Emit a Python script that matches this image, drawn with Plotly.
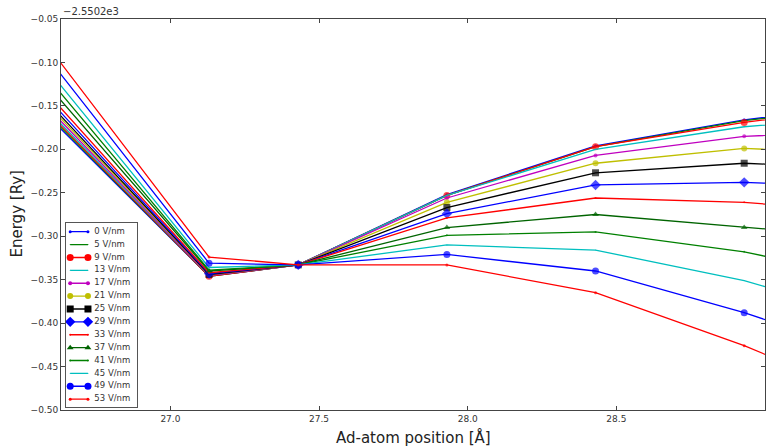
import plotly.graph_objs as go

# ad-atom positions [A]
positions = [26.63, 27.13, 27.43, 27.93, 28.43, 28.93, 29.43]

field_labels = ['0 V/nm', '5 V/nm', '9 V/nm', '13 V/nm', '17 V/nm', '21 V/nm', '25 V/nm',
                '29 V/nm', '33 V/nm', '37 V/nm', '41 V/nm', '45 V/nm', '49 V/nm', '53 V/nm']

# energies relative to -2.5502e3 Ry
e_0 = [-0.176, -0.346, -0.333, -0.252, -0.196, -0.166, -0.146]
e_5 = [-0.174, -0.346, -0.333, -0.253, -0.197, -0.167, -0.147]
e_9 = [-0.172, -0.346, -0.333, -0.253, -0.197, -0.169, -0.148]
e_13 = [-0.170, -0.345, -0.333, -0.253, -0.200, -0.174, -0.160]
e_17 = [-0.167, -0.345, -0.333, -0.256, -0.207, -0.185, -0.178]
e_21 = [-0.164, -0.344, -0.333, -0.261, -0.216, -0.199, -0.206]
e_25 = [-0.161, -0.344, -0.333, -0.267, -0.227, -0.216, -0.223]
e_29 = [-0.157, -0.343, -0.333, -0.274, -0.241, -0.238, -0.245]
e_33 = [-0.152, -0.342, -0.333, -0.279, -0.256, -0.261, -0.275]
e_37 = [-0.143, -0.340, -0.333, -0.290, -0.275, -0.290, -0.304]
e_41 = [-0.135, -0.339, -0.333, -0.299, -0.295, -0.318, -0.354]
e_45 = [-0.126, -0.336, -0.333, -0.310, -0.316, -0.351, -0.401]
e_49 = [-0.113, -0.331, -0.333, -0.321, -0.340, -0.388, -0.445]
e_53 = [-0.100, -0.324, -0.333, -0.333, -0.365, -0.426, -0.497]

energies = [e_0, e_5, e_9, e_13, e_17, e_21, e_25, e_29, e_33, e_37, e_41, e_45, e_49, e_53]

# (color, marker symbol, marker size) per series, matplotlib classic look
styles = [('#0000ff', 'circle', 3),
          ('#008000', 'circle', 1),
          ('#ff0000', 'circle', 7),
          ('#00bfbf', 'circle', 1),
          ('#bf00bf', 'circle', 4),
          ('#bfbf00', 'circle', 6),
          ('#000000', 'square', 7),
          ('#0000ff', 'diamond', 8),
          ('#ff0000', 'circle', 2),
          ('#006400', 'triangle-up', 6),
          ('#008000', 'circle', 2),
          ('#00bfbf', 'circle', 1),
          ('#0000ff', 'circle', 7),
          ('#ff0000', 'circle', 3)]

font_family = "DejaVu Sans, sans-serif"

fig = go.Figure()
for label, vals, (color, symbol, size) in zip(field_labels, energies, styles):
    # first point sits on the left axis edge, where matplotlib clipped its marker away
    sizes = [0] + [size] * (len(vals) - 1)
    fig.add_trace(go.Scatter(
        x=positions,
        y=vals,
        name=label,
        mode='lines+markers',
        line=dict(color=color, width=1.3),
        marker=dict(color=color, symbol=symbol, size=sizes, line=dict(width=0)),
        showlegend=False,
    ))

# matplotlib-style legend (two markers per sample) drawn in a small inset axis
n = len(field_labels)
for i, (label, (color, symbol, size)) in enumerate(zip(field_labels, styles)):
    row = n - 0.4 - i
    fig.add_trace(go.Scatter(
        x=[0.6, 3.1], y=[row, row],
        mode='lines+markers',
        line=dict(color=color, width=1.3),
        marker=dict(color=color, symbol=symbol, size=size, line=dict(width=0)),
        xaxis='x2', yaxis='y2', showlegend=False, hoverinfo='skip',
    ))
fig.add_trace(go.Scatter(
    x=[4.0] * n, y=[n - 0.4 - i for i in range(n)],
    text=field_labels, mode='text', textposition='middle right',
    textfont=dict(family=font_family, size=8.5, color='#333'),
    xaxis='x2', yaxis='y2', showlegend=False, hoverinfo='skip',
))

axis_common = dict(
    showline=True,
    linecolor='#444',
    linewidth=1,
    mirror='allticks',
    ticks='inside',
    ticklen=4,
    tickcolor='#444',
    showgrid=False,
    zeroline=False,
    automargin=False,
    tickfont=dict(family=font_family, size=9, color='#333'),
)
inset_axis = dict(showline=True, linecolor='#555', linewidth=1, mirror=True,
                  showgrid=False, zeroline=False, showticklabels=False, ticks='',
                  fixedrange=True)

fig.update_layout(
    width=772,
    height=446,
    margin=dict(l=61, r=7, t=19, b=36),
    paper_bgcolor='white',
    plot_bgcolor='white',
    font=dict(family=font_family, color='#222'),
    showlegend=False,
    xaxis=dict(
        range=[26.632, 29.0],
        tickvals=[27.0, 27.5, 28.0, 28.5, 29.0],
        tickformat='.1f',
        **axis_common
    ),
    yaxis=dict(
        range=[-0.50, -0.05],
        dtick=0.05,
        tick0=-0.5,
        tickformat='.2f',
        **axis_common
    ),
    xaxis2=dict(domain=[0.007, 0.108], range=[0, 10], anchor='y2', **inset_axis),
    yaxis2=dict(domain=[0.008, 0.479], range=[0, n + 0.3], anchor='x2', **inset_axis),
    annotations=[
        dict(text='−2.5502e3', xref='paper', yref='paper', x=0.0, y=1.0,
             xanchor='left', yanchor='bottom', showarrow=False,
             font=dict(family=font_family, size=10, color='#333')),
        dict(text='Ad-atom position [Å]', xref='paper', yref='paper', x=0.5, y=0.0,
             xanchor='center', yanchor='top', yshift=-16, showarrow=False,
             font=dict(family=font_family, size=15, color='#222')),
        dict(text='Energy [Ry]', xref='paper', yref='paper', x=0.0, y=0.5,
             xanchor='right', yanchor='middle', xshift=-34, textangle=-90,
             showarrow=False, font=dict(family=font_family, size=15, color='#222')),
    ],
)

fig.write_html("out.html", config={'displayModeBar': False},
               post_script="document.body.style.margin='0';")
